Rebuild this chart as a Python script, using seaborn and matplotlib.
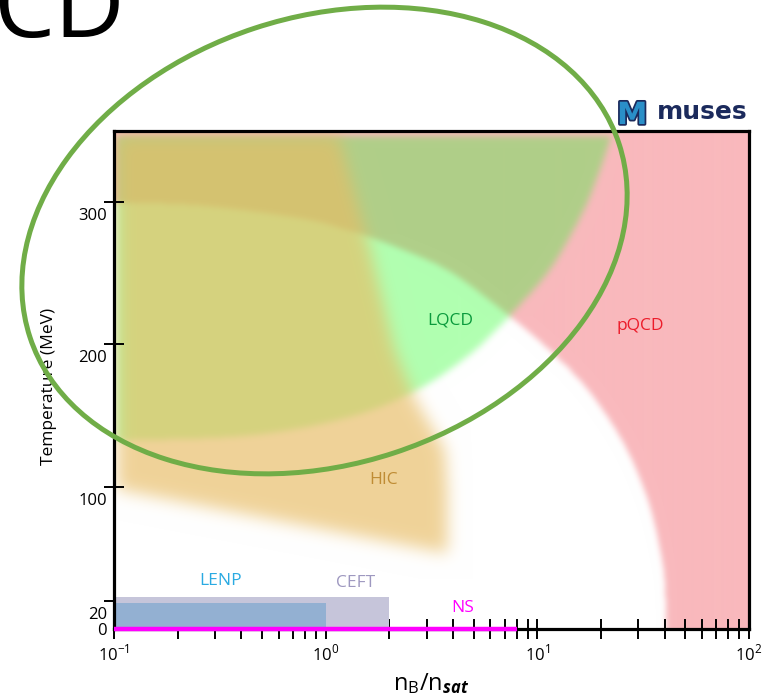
import numpy as np
import matplotlib
matplotlib.use("Agg")
import matplotlib.pyplot as plt
import seaborn as sns
from matplotlib.path import Path
from matplotlib.patches import Ellipse
from matplotlib.ticker import LogLocator, NullFormatter
from matplotlib.transforms import ScaledTranslation
import matplotlib.patheffects as pe

sns.set_theme(style="white")
plt.rcParams["font.family"] = ["Open Sans", "DejaVu Sans"]
plt.rcParams["mathtext.fontset"] = "custom"
plt.rcParams["mathtext.rm"] = "Open Sans"
plt.rcParams["mathtext.it"] = "Open Sans:italic:bold"
plt.rcParams["mathtext.bf"] = "Open Sans:bold"

# ---- data (baryon density in units of n_sat, temperature in MeV) ----
# crossover / transition line: inner edge of the pQCD domain
arc_nb = [0.1, 0.25, 0.75, 1.3, 2.2, 3.9, 7.4, 10.9, 15.9, 20.9, 26.2, 30.8,
          34.8, 37.9, 40.1, 40.9]
arc_T = [300, 298, 289, 280, 268, 251, 220, 199, 175, 152, 128, 105,
         82, 58, 35, 0]

# lattice QCD reach: edge facing pQCD, then edge facing the white interior
lqcd_right_nb = [22.5, 19.8, 16.4, 11.5, 7.4]
lqcd_right_T = [347, 323, 293, 253, 220]
lqcd_low_nb = [7.4, 4.8, 2.7, 1.3, 0.44, 0.103]
lqcd_low_T = [220, 193, 168, 149, 136, 132]
lqcd_top_T = 347
lqcd_left_nb = 0.103

# heavy-ion collision coverage
hic_nb = [0.103, 1.15, 1.62, 2.12, 2.64, 3.66, 3.75, 3.75, 0.103]
hic_T = [347, 347, 267, 196, 162, 126, 100, 53, 98]

# low-density constraints
ceft_nb = [0.1, 2.0]
ceft_T = 22.5
lenp_nb = [0.1, 1.0]
lenp_T = 18.3
ns_nb = [0.1, 8.0]

x_ticks = [0.1, 1, 10, 100]
x_ticklabels = [r"$10^{-1}$", r"$10^{0}$", r"$10^{1}$", r"$10^{2}$"]
y_ticks = [0, 20, 100, 200, 300]
y_ticklabels = ["0", "20", "100", "200", "300"]

labels = {
    "LQCD": (3.87, 217, "#0a9a3c"),
    "pQCD": (30.8, 213, "#ec1c2a"),
    "HIC": (1.87, 105, "#bf8c34"),
    "LENP": (0.32, 33.5, "#2aaae2"),
    "CEFT": (1.39, 32.5, "#9e98c0"),
    "NS": (4.45, 14.5, "#ff00ff"),
}

# ---- colours ----
pink = np.array([249, 185, 189]) / 255
bright_green = np.array([177, 255, 177]) / 255
muted_green = np.array([176, 207, 137]) / 255
orange = np.array([232, 188, 100]) / 255
hic_alpha = 0.66

# ---- raster of the soft-edged domains on a (log10 nB, T) grid ----
NX, NY = 636, 498
lx = np.linspace(-1, 2, NX)
ty = np.linspace(0, 350, NY)
LX, TY = np.meshgrid(lx, ty)
pts = np.column_stack([LX.ravel(), TY.ravel()])
SX, SY = 211.7, 1.42  # grid cells per decade / per MeV


def smooth(nb, T, n=24):
    """Catmull-Rom curve through the points, returned as (log10 nB, T)."""
    P = np.column_stack([np.log10(nb) * SX, np.asarray(T, float) * SY])
    P = np.vstack([2 * P[0] - P[1], P, 2 * P[-1] - P[-2]])
    t = np.linspace(0, 1, n, endpoint=False)[:, None]
    out = []
    for i in range(1, len(P) - 2):
        p0, p1, p2, p3 = P[i - 1], P[i], P[i + 1], P[i + 2]
        out.append(0.5 * (2 * p1 + (-p0 + p2) * t
                          + (2 * p0 - 5 * p1 + 4 * p2 - p3) * t ** 2
                          + (-p0 + 3 * p1 - 3 * p2 + p3) * t ** 3))
    out.append(P[-2][None])
    out = np.vstack(out)
    return out[:, 0] / SX, out[:, 1] / SY


def blur(m, s):
    r = int(3 * s) + 1
    k = np.exp(-0.5 * (np.arange(-r, r + 1) / s) ** 2)
    k /= k.sum()
    p = np.pad(m, r, mode="edge")
    p = np.apply_along_axis(lambda v: np.convolve(v, k, mode="valid"), 1, p)
    p = np.apply_along_axis(lambda v: np.convolve(v, k, mode="valid"), 0, p)
    return p


def region(lognb, T, sigma):
    poly = np.column_stack([lognb, T])
    m = Path(poly).contains_points(pts).reshape(NY, NX).astype(float)
    return blur(m, sigma)


# pQCD: everything beyond the transition line
ax_l, ax_T = smooth(arc_nb, arc_T)
pq_x = np.concatenate([ax_l, np.log10([40.9, 130.0, 130.0, 0.09, 0.09])])
pq_y = np.concatenate([ax_T, [-20, -20, 380, 380, 300]])
P = region(pq_x, pq_y, 3.0)

r_l, r_T = smooth(lqcd_right_nb, lqcd_right_T)
b_l, b_T = smooth(lqcd_low_nb, lqcd_low_T)
lq_x = np.concatenate([r_l, b_l, [np.log10(lqcd_left_nb)]])
lq_y = np.concatenate([r_T, b_T, [lqcd_top_T]])
L = region(lq_x, lq_y, 3.5)

H = region(np.log10(hic_nb), hic_T, 8.0)

img = np.ones((NY, NX, 3))
img = img * (1 - P[..., None]) + pink * P[..., None]
green = bright_green * (1 - P[..., None]) + muted_green * P[..., None]
img = img * (1 - L[..., None]) + green * L[..., None]
a = (hic_alpha * H)[..., None]
img = img * (1 - a) + orange * a
img = np.clip(img, 0, 1)

# ---- figure ----
fig = plt.figure(figsize=(7.79, 6.99), dpi=100)
fig.patch.set_facecolor("white")
rect = [114 / 779, 70 / 699, 635 / 779, 498 / 699]

# domains live on a linear log10(nB) axis underneath the log axis
bg = fig.add_axes(rect, zorder=0)
bg.imshow(img, origin="lower", extent=(-1, 2, 0, 350), aspect="auto",
          interpolation="bilinear")
bg.set_xlim(-1, 2)
bg.set_ylim(0, 350)
bg.axis("off")

ax = fig.add_axes(rect, zorder=1)
ax.patch.set_alpha(0)
ax.set_xscale("log")
ax.set_xlim(0.1, 100)
ax.set_ylim(0, 350)

ax.fill_between(ceft_nb, 0, ceft_T, color="#c6c5da", lw=0, zorder=1)
ax.fill_between(lenp_nb, 0, lenp_T, color="#93b0d2", lw=0, zorder=1.1)
ax.plot(ns_nb, [0, 0], color="#ff00ff", lw=3.2, solid_capstyle="butt",
        clip_on=False, zorder=6)

for name, (xv, yv, col) in labels.items():
    ax.text(xv, yv, name, color=col, fontsize=12.5, ha="center", va="center",
            zorder=7)

for side in ["left", "right", "top", "bottom"]:
    ax.spines[side].set_color("black")
    ax.spines[side].set_linewidth(2.3)
    ax.spines[side].set_visible(True)

ax.set_xticks(x_ticks)
ax.set_xticklabels(x_ticklabels)
ax.xaxis.set_minor_locator(LogLocator(base=10, subs=range(2, 10), numticks=20))
ax.xaxis.set_minor_formatter(NullFormatter())
ax.tick_params(axis="x", which="both", direction="inout", length=14, width=1.4,
               color="black", bottom=True, labelsize=12, labelcolor="black",
               pad=4)
ax.set_yticks(y_ticks)
ax.set_yticklabels(y_ticklabels)
ax.tick_params(axis="y", which="major", direction="inout", length=14, width=1.4,
               color="black", left=True, labelsize=12, labelcolor="black",
               pad=-2)
ax.yaxis.get_major_ticks()[0].tick1line.set_visible(False)
ax.yaxis.get_major_ticks()[0].tick2line.set_visible(False)
shift = ScaledTranslation(0, -0.12, fig.dpi_scale_trans)
for lab in ax.get_yticklabels()[1:]:
    lab.set_transform(lab.get_transform() + shift)

ax.set_ylabel("Temperature (MeV)", fontsize=12.5, color="black")
ax.yaxis.set_label_coords(-0.09, 0.488)
ax.set_xlabel(r"$\mathrm{n}_\mathrm{B}/\mathrm{n}_{\mathit{sat}}$",
              fontsize=17, color="black")
ax.xaxis.set_label_coords(0.5, -0.085)
ax.grid(False)

# headline text and logo
fig.text(-7 / 779, 1 - 37 / 699, "CD", fontsize=70, color="black",
         ha="left", va="baseline")
fig.text(657 / 779, 1 - 119 / 699, "muses", fontsize=18, fontweight="bold",
         color="#1b2a5c", ha="left", va="baseline",
         family=["DejaVu Sans"])
fig.text(617 / 779, 1 - 124 / 699, "M", fontsize=22, fontweight="heavy",
         color="#2a8fc8", ha="left", va="baseline", family=["DejaVu Sans"],
         path_effects=[pe.withStroke(linewidth=2.5, foreground="#1b2a5c")])

# highlight ring drawn in figure pixel space
ov = fig.add_axes([0, 0, 1, 1], zorder=10)
ov.set_xlim(0, 779)
ov.set_ylim(699, 0)
ov.axis("off")
ov.patch.set_alpha(0)
ov.add_patch(Ellipse((324.5, 240.5), 620, 447, angle=-18.2, fill=False,
                     ec="#70ad47", lw=3.6))

fig.savefig("out.png", dpi=100, facecolor="white")
